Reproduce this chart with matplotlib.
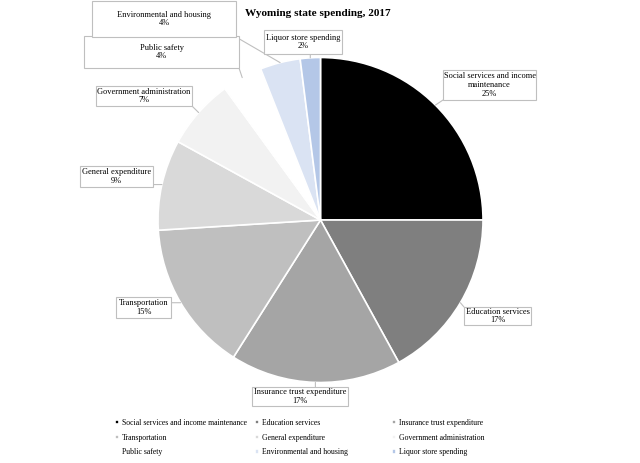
import matplotlib
matplotlib.use('Agg')
import matplotlib.pyplot as plt
import numpy as np
from matplotlib.patches import Rectangle

# data
categories = ['Social services and income maintenance', 'Education services',
              'Insurance trust expenditure', 'Transportation', 'General expenditure',
              'Government administration', 'Public safety', 'Environmental and housing',
              'Liquor store spending']
shares = [25, 17, 17, 15, 9, 7, 4, 4, 2]
colors = ['#000000', '#7f7f7f', '#a5a5a5', '#bfbfbf', '#d9d9d9',
          '#f2f2f2', '#ffffff', '#dae3f3', '#b4c7e7']
label_text = ['Social services and income\nmaintenance', 'Education services',
              'Insurance trust expenditure', 'Transportation', 'General expenditure',
              'Government administration', 'Public safety', 'Environmental and housing',
              'Liquor store spending']

# label boxes in image pixels (x0, y0, x1, y1), y from the top
boxes = [(443, 70, 536, 100), (464, 307, 531, 325), (252, 387, 348, 406),
         (116, 297, 171, 318), (80, 166, 153, 187), (96, 86, 192, 106),
         (84, 36, 239, 68), (92, 1, 236, 37), (264, 30, 342, 54)]

plt.rcParams['font.family'] = ['Liberation Serif', 'DejaVu Serif']

W, H = 640, 463
fig = plt.figure(figsize=(6.4, 4.63), dpi=100)
cx, cy, r = 320.5, H - 220, 162.5
ax = fig.add_axes([(cx - r) / W, (cy - r) / H, 2 * r / W, 2 * r / H])
wedges, _ = ax.pie(shares, colors=colors, startangle=90, counterclock=False,
                   radius=1, wedgeprops=dict(edgecolor='white', linewidth=1.2))
ax.set_xlim(-1, 1)
ax.set_ylim(-1, 1)
ax.set_aspect('equal')
ax.axis('off')

fig.text(318 / W, 1 - 14 / H, 'Wyoming state spending, 2017', ha='center', va='center',
         fontsize=8.1, fontweight='bold')

total = float(sum(shares))
cum = np.cumsum([0] + shares)
for i, (name, s) in enumerate(zip(label_text, shares)):
    mid = (cum[i] + s / 2.0) / total
    ang = np.deg2rad(90 - 360 * mid)
    px, py = ax.transData.transform((np.cos(ang), np.sin(ang)))
    x0, y0i, x1, y1i = boxes[i]
    y0, y1 = H - y1i, H - y0i
    fig.add_artist(Rectangle((x0 / W, y0 / H), (x1 - x0) / W, (y1 - y0) / H,
                             transform=fig.transFigure, facecolor='white',
                             edgecolor='#bfbfbf', linewidth=0.8, zorder=3))
    fig.text((x0 + x1) / 2 / W, (y0 + y1) / 2 / H, '%s\n%d%%' % (name, s),
             ha='center', va='center', fontsize=6, linespacing=1.15, zorder=4)
    sx = min(max(px, x0), x1)
    sy = min(max(py, y0), y1)
    ax.annotate('', xy=(np.cos(ang), np.sin(ang)), xycoords='data',
                xytext=(sx, sy), textcoords='figure pixels',
                arrowprops=dict(arrowstyle='-', color='#bfbfbf', lw=0.8,
                                shrinkA=0, shrinkB=0), annotation_clip=False)

# legend, three columns filled row by row
col_x = [115, 255, 392]
for c in range(3):
    idx = [c, c + 3, c + 6]
    fig.legend([wedges[k] for k in idx], [categories[k] for k in idx],
               loc='upper left', bbox_to_anchor=(col_x[c] / W, 1 - 419 / H),
               frameon=False, fontsize=5.6, handlelength=0.5, handleheight=0.5,
               handletextpad=0.4, labelspacing=0.85, borderpad=0, borderaxespad=0)

plt.savefig('out.png', dpi=100)
